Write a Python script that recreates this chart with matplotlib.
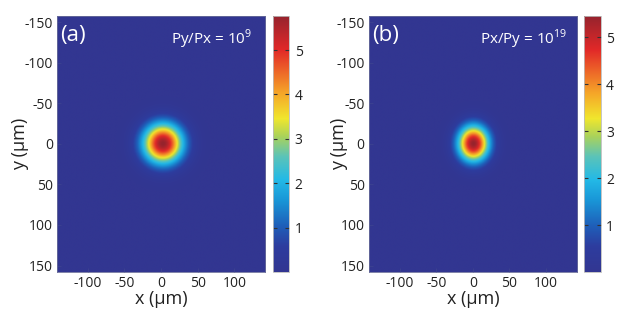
import numpy as np
import matplotlib
matplotlib.use('Agg')
import matplotlib.pyplot as plt
from matplotlib.colors import LinearSegmentedColormap

plt.rcParams['font.family'] = ['Open Sans', 'DejaVu Sans']
plt.rcParams['mathtext.fontset'] = 'custom'
plt.rcParams['mathtext.rm'] = 'Open Sans'
plt.rcParams['axes.unicode_minus'] = False

# Beam spot parameters (um, arbitrary intensity)
panel_tags = ['(a)', '(b)']
panel_notes = [r'Py/Px = 10$^{\mathrm{9}}$', r'Px/Py = 10$^{\mathrm{19}}$']
peak_vals = [5.77, 5.44]
centre_x = [2.0, 0.0]
centre_y = [0.0, 0.0]
width_x = [27.0, 21.0]
width_y = [24.5, 22.0]
cbar_max = [5.77, 5.45]

x_range = [-142, 142]
y_range = [-158, 158]
x_ticks = [-100, -50, 0, 50, 100]
y_ticks = [-150, -100, -50, 0, 50, 100, 150]
cbar_ticks = [1, 2, 3, 4, 5]

# washed-out jet, as in the scanned figure
cols = [(0.00, (50, 54, 145)), (0.10, (45, 60, 158)), (0.18, (30, 95, 185)),
        (0.28, (25, 150, 215)), (0.36, (35, 185, 230)), (0.45, (90, 195, 185)),
        (0.53, (170, 210, 90)), (0.60, (240, 230, 45)), (0.70, (245, 165, 40)),
        (0.80, (235, 90, 40)), (0.87, (225, 40, 40)), (1.00, (150, 35, 45))]
cmap = LinearSegmentedColormap.from_list(
    'washjet', [(p, tuple(c / 255 for c in rgb)) for p, rgb in cols])

fig = plt.figure(figsize=(6.23, 3.15), dpi=100)

ax_pos = [[0.0915, 0.1365, 0.334, 0.813], [0.592, 0.1365, 0.334, 0.813]]
cb_pos = [[0.438, 0.1365, 0.026, 0.813], [0.937, 0.1365, 0.027, 0.813]]
note_x = [0.94, 0.955]
ylab_pad = [-3.5, -8.5]

xs = np.linspace(x_range[0], x_range[1], 300)
ys = np.linspace(y_range[0], y_range[1], 330)
X, Y = np.meshgrid(xs, ys)

for i in range(2):
    ax = fig.add_axes(ax_pos[i])
    Z = peak_vals[i] * np.exp(-((X - centre_x[i]) / width_x[i]) ** 2
                              - ((Y - centre_y[i]) / width_y[i]) ** 2)
    im = ax.imshow(Z, cmap=cmap, vmin=0, vmax=cbar_max[i], aspect='auto',
                   extent=[x_range[0], x_range[1], y_range[1], y_range[0]],
                   interpolation='bilinear')
    ax.set_xticks(x_ticks)
    ax.set_yticks(y_ticks)
    ax.tick_params(direction='in', length=3, color='#3a4090', labelsize=10,
                   labelcolor='#222222', pad=3)
    for s in ax.spines.values():
        s.set_color('#6a6e9a')
        s.set_linewidth(0.6)
    ax.set_xlabel('x (\u00b5m)', fontsize=13, labelpad=-0.5, color='#222222')
    ax.set_ylabel('y (\u00b5m)', fontsize=13, labelpad=ylab_pad[i],
                  color='#222222')
    ax.text(0.015, 0.965, panel_tags[i], transform=ax.transAxes, color='white',
            fontsize=16, ha='left', va='top')
    ax.text(note_x[i], 0.955, panel_notes[i], transform=ax.transAxes,
            color='white', fontsize=11, ha='right', va='top')

    cax = fig.add_axes(cb_pos[i])
    cb = fig.colorbar(im, cax=cax, ticks=cbar_ticks)
    cax.tick_params(direction='in', length=3, left=True, right=True,
                    color='#333333', labelsize=10, labelcolor='#222222', pad=4)
    cb.outline.set_edgecolor('#bbbbbb')
    cb.outline.set_linewidth(0.6)

fig.savefig('out.png', dpi=100)
